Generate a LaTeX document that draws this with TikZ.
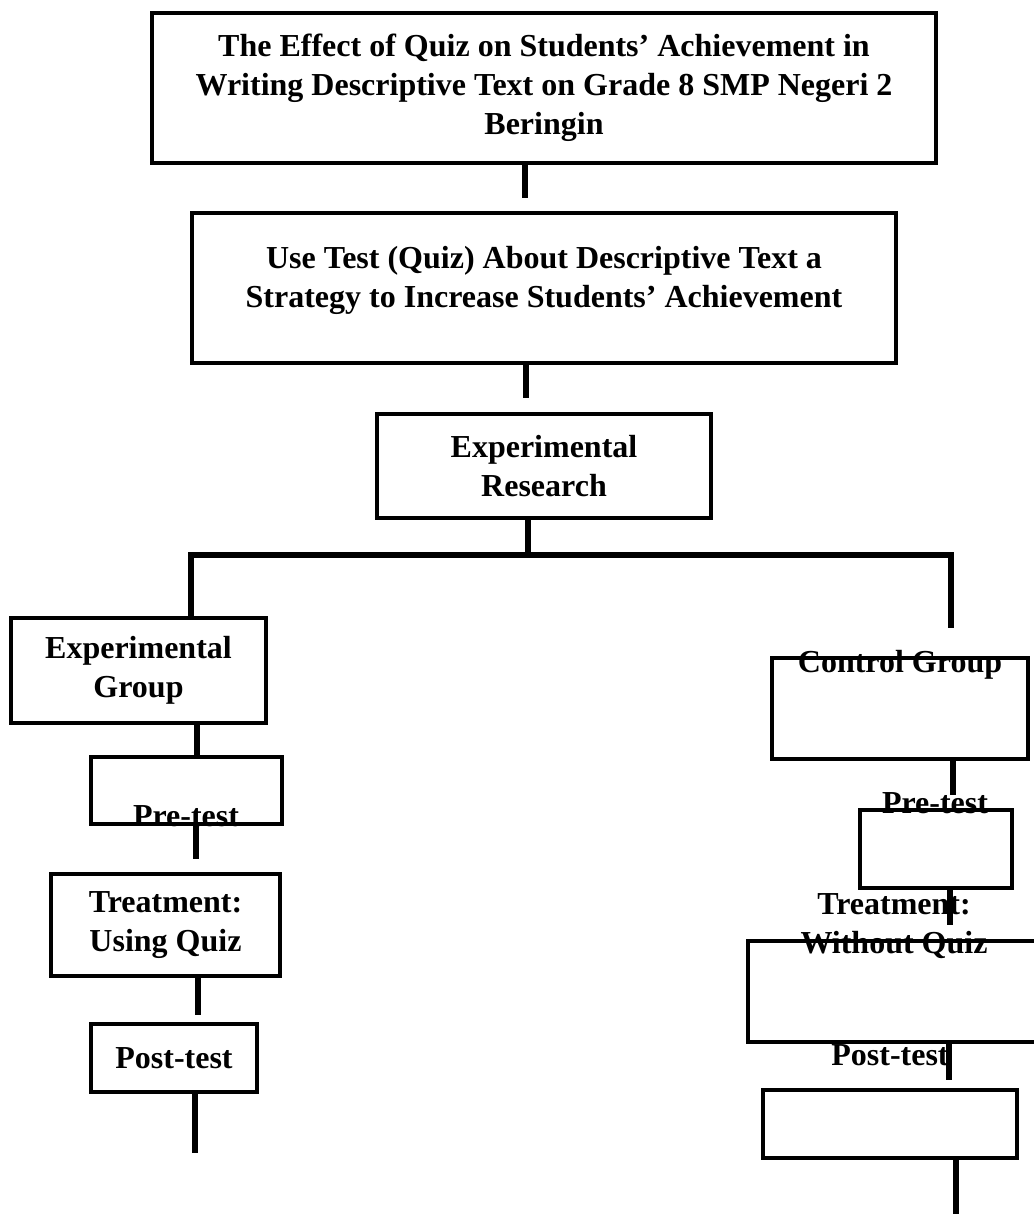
\documentclass[tikz,border=0pt]{standalone}
\usepackage{fontspec}
\setmainfont{Liberation Serif}
\tikzset{
  box/.style={draw, line width=3.5pt, inner sep=0pt, align=center, font=\bfseries\fontsize{32}{39}\selectfont},
  txt/.style={inner sep=0pt, align=center, font=\bfseries\fontsize{32}{39}\selectfont},
  link/.style={line width=6pt, line join=miter}
}
\begin{document}
\begin{tikzpicture}[x=1pt,y=-1pt]
\useasboundingbox (0,0) rectangle (1033,1214);

\node[box, minimum width=784, minimum height=150] (title) at (544,88) {The Effect of Quiz on Students’ Achievement in\\Writing Descriptive Text on Grade 8 SMP Negeri 2\\Beringin};
\node[box, minimum width=704, minimum height=150] (strategy) at (544,288) {};
\node[txt] (strategytext) at (544,280) {Use Test (Quiz) About Descriptive Text a\\Strategy to Increase Students’ Achievement};
\node[box, minimum width=334, minimum height=104] (research) at (544,466) {Experimental\\Research};

\node[box, minimum width=255, minimum height=105] (expgroup) at (138.5,670.5) {Experimental\\Group};
\node[box, minimum width=191, minimum height=67] (exppre) at (186.5,790.5) {};
\node[txt, anchor=base] (exppretext) at (186,826) {Pre-test};
\node[box, minimum width=229, minimum height=102] (exptreat) at (165.5,925) {Treatment:\\Using Quiz};
\node[box, minimum width=166, minimum height=68] (exppost) at (174,1058) {Post-test};

\node[box, minimum width=256, minimum height=101] (ctrlgroup) at (900,708.5) {};
\node[txt, anchor=base] (ctrlgrouptext) at (900,672) {Control Group};
\node[box, minimum width=152, minimum height=78] (ctrlpre) at (936,849) {};
\node[txt, anchor=base] (ctrlpretext) at (935,813) {Pre-test};
\node[box, minimum width=312, minimum height=101] (ctrltreat) at (904,991.5) {};
\node[txt] (ctrltreattext) at (894,926) {Treatment:\\Without Quiz};
\node[box, minimum width=254, minimum height=68] (ctrlpost) at (890,1124) {};
\node[txt, anchor=base] (ctrlposttext) at (890,1065) {Post-test};

\coordinate (t1) at (525,198);
\coordinate (t2) at (526,398);
\coordinate (split) at (528,555);
\coordinate (lsplit) at (191,555);
\coordinate (rsplit) at (951,555);
\coordinate (rend) at (951,628);
\coordinate (e1) at (197,755);
\coordinate (e2) at (196,859);
\coordinate (e3) at (198,1015);
\coordinate (e4) at (195,1153);
\coordinate (c1) at (953,795);
\coordinate (c2) at (950,925);
\coordinate (c3) at (949,1080);
\coordinate (c4) at (956,1214);

\draw[link] (title.south -| t1) -- (t1);
\draw[link] (strategy.south -| t2) -- (t2);
\draw[link] (research.south -| split) -- (split);
\draw[link] (expgroup.north -| lsplit) -- (lsplit) -- (rsplit) -- (rend);
\draw[link] (expgroup.south -| e1) -- (e1);
\draw[link] (exppre.south -| e2) -- (e2);
\draw[link] (exptreat.south -| e3) -- (e3);
\draw[link] (exppost.south -| e4) -- (e4);
\draw[link] (ctrlgroup.south -| c1) -- (c1);
\draw[link] (ctrlpre.south -| c2) -- (c2);
\draw[link] (ctrltreat.south -| c3) -- (c3);
\draw[link] (ctrlpost.south -| c4) -- (c4);
\end{tikzpicture}
\end{document}
